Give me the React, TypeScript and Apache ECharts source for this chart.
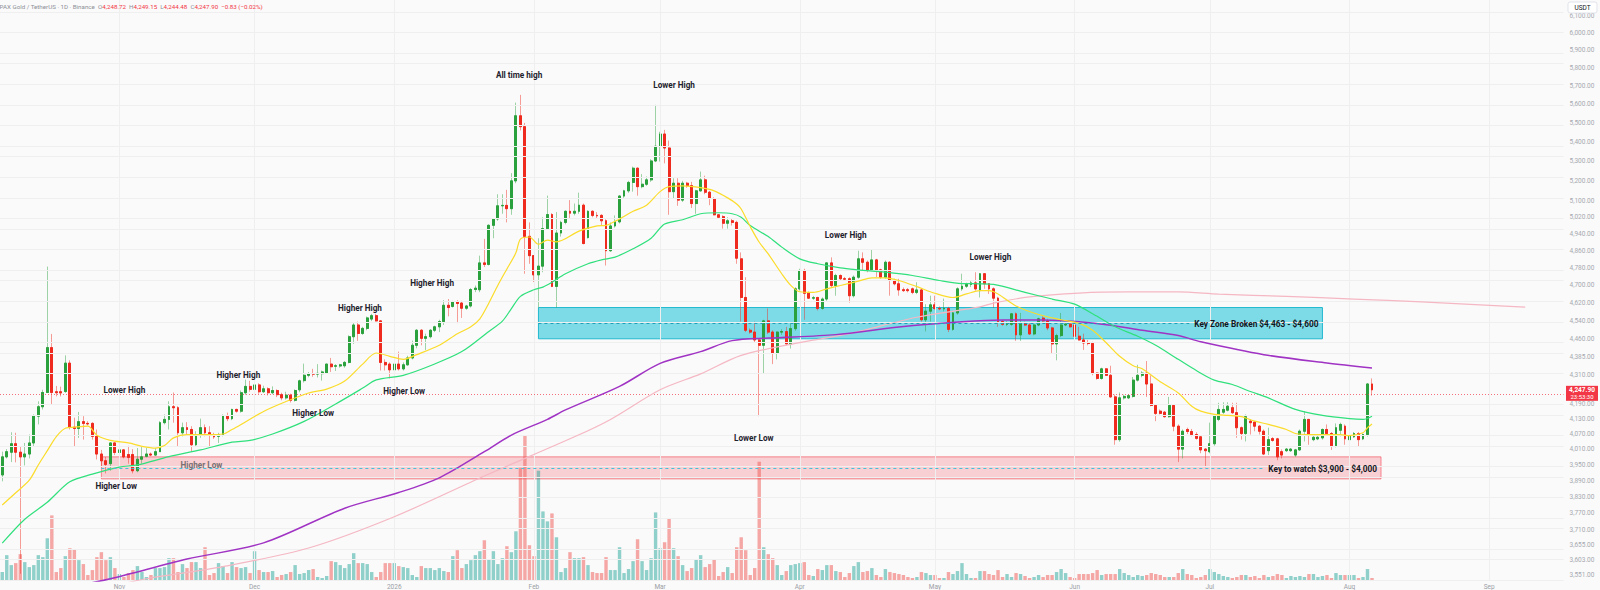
import React, { useEffect, useRef } from "react";
import * as echarts from "echarts";

// ---------------- categories (daily, crypto market trades every day) ----------------
const START_DATE = "2025-10-06";
const DAY_COUNT = 347; // the axis runs on past the last candle, into mid-September 2026

const monthMarks: [string, string][] = [
  ["2025-11-01", "Nov"], ["2025-12-01", "Dec"], ["2026-01-01", "2026"], ["2026-02-01", "Feb"],
  ["2026-03-01", "Mar"], ["2026-04-01", "Apr"], ["2026-05-01", "May"], ["2026-06-01", "Jun"],
  ["2026-07-01", "Jul"], ["2026-08-01", "Aug"], ["2026-09-01", "Sep"],
];

// right price scale tick labels
const priceTicks = [
  6100, 6000, 5900, 5800, 5700, 5600, 5500, 5400, 5300, 5200, 5100, 5020, 4940, 4860, 4780, 4700,
  4620, 4540, 4460, 4385, 4310, 4190, 4130, 4070, 4010, 3950, 3890, 3830, 3770, 3710, 3655, 3603, 3551,
];

// ---------------- daily candles [open, high, low, close] ----------------
const ohlcOct = [
  [3912, 4001, 3888, 3981], [3981, 4011, 3975, 4001], [3999, 4077, 3961, 4032], [4032, 4075, 3960, 3999],
  [3999, 4022, 3555, 3981], [3981, 4035, 3948, 3992], [3992, 4068, 3975, 4035], [4035, 4148, 4022, 4141],
  [4141, 4201, 4108, 4179], [4179, 4248, 4168, 4237], [4237, 4786, 4235, 4425], [4425, 4484, 4188, 4237],
  [4240, 4264, 4221, 4236], [4240, 4261, 4221, 4235], [4241, 4392, 4235, 4359], [4359, 4371, 4088, 4097],
  [4097, 4135, 4022, 4092], [4092, 4158, 4055, 4119], [4119, 4141, 4048, 4112], [4112, 4121, 4104, 4110],
  [4112, 4117, 4048, 4061], [4061, 4088, 3971, 3992], [3992, 4008, 3941, 3966], [3966, 3981, 3918, 3952],
  [3955, 4037, 3928, 4035], [4035, 4037, 3988, 3998],
];
const ohlcNov = [
  [3998, 4011, 3995, 4008], [4008, 4011, 3975, 3981], [3990, 4024, 3955, 3979], [3990, 4011, 3918, 3928],
  [3928, 4015, 3922, 3972], [3972, 4019, 3955, 3981], [3983, 4015, 3979, 3992], [3992, 3998, 3984, 3988],
  [3988, 4015, 3984, 4001], [4001, 4121, 4001, 4115], [4115, 4148, 4108, 4128], [4128, 4201, 4088, 4179],
  [4179, 4237, 4115, 4175], [4175, 4181, 4022, 4075], [4075, 4115, 4061, 4095], [4095, 4117, 4068, 4088],
  [4088, 4101, 4001, 4028], [4028, 4081, 4022, 4068], [4068, 4131, 4055, 4095], [4095, 4108, 4061, 4075],
  [4075, 4101, 4022, 4066], [4066, 4075, 4051, 4059], [4061, 4075, 4035, 4068], [4068, 4148, 4061, 4141],
  [4141, 4155, 4121, 4131], [4131, 4171, 4125, 4168], [4168, 4171, 4155, 4161], [4161, 4245, 4155, 4236],
  [4236, 4290, 4228, 4262], [4262, 4285, 4240, 4250],
];
const ohlcDec = [
  [4250, 4282, 4245, 4268], [4268, 4275, 4232, 4240], [4240, 4265, 4235, 4252], [4252, 4258, 4225, 4236],
  [4236, 4262, 4230, 4245], [4245, 4250, 4218, 4228], [4228, 4236, 4205, 4215], [4215, 4240, 4208, 4226],
  [4226, 4232, 4196, 4205], [4205, 4250, 4200, 4245], [4248, 4290, 4238, 4285], [4286, 4357, 4278, 4308],
  [4308, 4322, 4300, 4315], [4315, 4335, 4302, 4313], [4313, 4355, 4299, 4316], [4315, 4328, 4286, 4322],
  [4318, 4357, 4315, 4355], [4355, 4381, 4322, 4344], [4346, 4355, 4326, 4348], [4347, 4356, 4340, 4352],
  [4348, 4368, 4340, 4362], [4362, 4478, 4358, 4472], [4472, 4531, 4441, 4523], [4523, 4538, 4454, 4486],
  [4486, 4515, 4480, 4508], [4508, 4560, 4500, 4554], [4549, 4572, 4540, 4564], [4564, 4572, 4538, 4541],
  [4541, 4544, 4328, 4362], [4362, 4375, 4328, 4352], [4355, 4362, 4295, 4331],
];
const ohlcJan = [
  [4331, 4362, 4325, 4355], [4355, 4408, 4328, 4335], [4335, 4362, 4328, 4352], [4352, 4390, 4348, 4381],
  [4381, 4455, 4375, 4435], [4435, 4505, 4422, 4500], [4500, 4505, 4435, 4465], [4465, 4485, 4415, 4472],
  [4472, 4505, 4465, 4500], [4500, 4520, 4492, 4515], [4515, 4546, 4492, 4538], [4538, 4633, 4523, 4610],
  [4610, 4638, 4561, 4600], [4605, 4630, 4600, 4626], [4626, 4633, 4531, 4618], [4620, 4630, 4554, 4597],
  [4597, 4612, 4590, 4607], [4607, 4688, 4600, 4681], [4681, 4699, 4669, 4687], [4680, 4837, 4669, 4803],
  [4803, 4916, 4784, 4796], [4796, 4986, 4791, 4981], [4981, 5015, 4919, 5012], [5012, 5133, 5003, 5076],
  [5076, 5133, 5037, 5078], [5078, 5155, 4995, 5062], [5062, 5239, 5032, 5200], [5200, 5609, 5188, 5538],
  [5538, 5651, 5460, 5480], [5480, 5500, 4753, 4928], [4928, 4995, 4799, 4837],
];
const ohlcFeb = [
  [4837, 4840, 4715, 4748], [4748, 4919, 4600, 4788], [4788, 5020, 4760, 4965], [4965, 5126, 4962, 5033],
  [5033, 5040, 4692, 4695], [4695, 5045, 4600, 4944], [4944, 5003, 4927, 4995], [4995, 5053, 4986, 5049],
  [5049, 5104, 5012, 5040], [5040, 5087, 5029, 5049], [5049, 5141, 5037, 5079], [5079, 5087, 4890, 4894],
  [4922, 5054, 4918, 5049], [5049, 5054, 5020, 5029], [5029, 5045, 5012, 5027], [5029, 5035, 4978, 5003],
  [5003, 5010, 4791, 4860], [4860, 4995, 4855, 4978], [4978, 5029, 4970, 4998], [4998, 5129, 4990, 5124],
  [5124, 5155, 5115, 5150], [5150, 5200, 5140, 5192], [5192, 5272, 5146, 5264], [5264, 5268, 5126, 5171],
  [5171, 5234, 5163, 5183], [5183, 5222, 5175, 5205], [5205, 5310, 5195, 5301], [5301, 5597, 5295, 5377],
];
const ohlcMar = [
  [5377, 5453, 5298, 5441], [5441, 5463, 5289, 5368], [5368, 5407, 5032, 5146], [5146, 5213, 5112, 5188],
  [5188, 5213, 5076, 5104], [5104, 5200, 5095, 5188], [5188, 5195, 5165, 5176], [5176, 5195, 5065, 5087],
  [5087, 5155, 5037, 5150], [5150, 5247, 5146, 5205], [5205, 5226, 5133, 5143], [5143, 5150, 5079, 5112],
  [5112, 5118, 5029, 5032], [5032, 5036, 5012, 5020], [5023, 5030, 4965, 4991], [4991, 5020, 4965, 5003],
  [5003, 5012, 4980, 4995], [4995, 5003, 4799, 4825], [4822, 4852, 4538, 4645], [4645, 4737, 4492, 4500],
  [4500, 4508, 4485, 4492], [4492, 4538, 4446, 4458], [4458, 4462, 4141, 4435], [4435, 4546, 4315, 4541],
  [4541, 4596, 4484, 4492], [4492, 4500, 4355, 4401], [4401, 4495, 4375, 4492], [4492, 4505, 4480, 4494],
  [4494, 4515, 4435, 4441], [4441, 4530, 4421, 4507], [4507, 4691, 4498, 4684],
];
const ohlcApr = [
  [4684, 4776, 4676, 4768], [4768, 4776, 4546, 4664], [4664, 4672, 4638, 4642], [4642, 4652, 4634, 4644],
  [4645, 4648, 4587, 4596], [4596, 4645, 4590, 4638], [4638, 4806, 4630, 4803], [4803, 4829, 4692, 4699],
  [4699, 4753, 4653, 4745], [4745, 4750, 4722, 4730], [4730, 4738, 4720, 4728], [4730, 4737, 4622, 4653],
  [4653, 4745, 4645, 4737], [4737, 4860, 4730, 4822], [4822, 4852, 4768, 4806], [4806, 4814, 4760, 4771],
  [4771, 4868, 4765, 4817], [4817, 4822, 4737, 4771], [4771, 4776, 4730, 4737], [4737, 4814, 4730, 4806],
  [4806, 4811, 4653, 4722], [4722, 4730, 4700, 4707], [4707, 4730, 4653, 4679], [4680, 4690, 4670, 4676],
  [4680, 4688, 4668, 4676], [4684, 4690, 4660, 4668], [4668, 4714, 4660, 4679], [4679, 4684, 4538, 4546],
  [4546, 4615, 4495, 4584], [4584, 4653, 4538, 4612],
];
const ohlcMay = [
  [4612, 4653, 4590, 4596], [4596, 4605, 4588, 4594], [4594, 4640, 4583, 4596], [4596, 4603, 4492, 4504],
  [4504, 4585, 4498, 4576], [4576, 4691, 4568, 4684], [4684, 4753, 4675, 4696], [4696, 4712, 4688, 4704],
  [4704, 4720, 4692, 4711], [4711, 4760, 4676, 4684], [4676, 4756, 4645, 4753], [4753, 4756, 4684, 4707],
  [4707, 4710, 4661, 4684], [4684, 4691, 4599, 4642], [4642, 4648, 4515, 4538], [4538, 4545, 4520, 4526],
  [4526, 4540, 4518, 4528], [4526, 4576, 4520, 4572], [4572, 4578, 4454, 4480], [4480, 4576, 4454, 4530],
  [4530, 4538, 4518, 4523], [4523, 4530, 4480, 4484], [4484, 4528, 4478, 4523], [4523, 4555, 4518, 4550],
  [4553, 4561, 4530, 4541], [4541, 4550, 4500, 4510], [4510, 4515, 4401, 4441], [4441, 4485, 4371, 4477],
  [4477, 4576, 4470, 4523], [4523, 4530, 4518, 4527], [4527, 4530, 4512, 4515],
];
const ohlcJun = [
  [4523, 4527, 4441, 4474], [4474, 4515, 4455, 4458], [4458, 4485, 4415, 4445], [4445, 4458, 4435, 4443],
  [4443, 4450, 4308, 4317], [4317, 4321, 4290, 4295], [4295, 4340, 4290, 4335], [4335, 4338, 4305, 4308],
  [4308, 4348, 4215, 4219], [4219, 4228, 4028, 4048], [4048, 4237, 4040, 4215], [4215, 4228, 4208, 4221],
  [4215, 4230, 4210, 4224], [4221, 4301, 4216, 4288], [4288, 4352, 4282, 4308], [4308, 4325, 4300, 4317],
  [4317, 4368, 4219, 4272], [4272, 4308, 4181, 4184], [4184, 4188, 4121, 4152], [4161, 4168, 4148, 4152],
  [4157, 4162, 4135, 4139], [4139, 4219, 4135, 4184], [4184, 4188, 4081, 4101], [4101, 4108, 3961, 4011],
  [4011, 4088, 3975, 4081], [4088, 4095, 4070, 4080], [4080, 4090, 4061, 4068], [4068, 4077, 4048, 4053],
  [4059, 4061, 3995, 4008], [4011, 4015, 3941, 4005],
];
const ohlcJul = [
  [4001, 4115, 3995, 4032], [4032, 4144, 4024, 4141], [4128, 4195, 4121, 4168], [4157, 4197, 4150, 4168],
  [4165, 4197, 4160, 4181], [4175, 4195, 4150, 4155], [4155, 4195, 4055, 4095], [4095, 4100, 4048, 4072],
  [4072, 4148, 4041, 4139], [4121, 4128, 4068, 4115], [4117, 4121, 4081, 4101], [4101, 4105, 4068, 4081],
  [4081, 4088, 3988, 3992], [4005, 4095, 3988, 4048], [4052, 4058, 4040, 4045], [4051, 4055, 3968, 3981],
  [4001, 4010, 3975, 3988], [4005, 4015, 4000, 4011], [4005, 4015, 4000, 4011], [3988, 4012, 3981, 4008],
  [4008, 4088, 4004, 4081], [4081, 4161, 4041, 4128], [4128, 4130, 4028, 4068], [4048, 4064, 4042, 4057],
  [4051, 4062, 4046, 4057], [4055, 4092, 4048, 4088], [4088, 4108, 4068, 4072], [4072, 4078, 4008, 4024],
  [4024, 4112, 4018, 4095], [4085, 4115, 4061, 4108], [4101, 4108, 4028, 4051],
];
const ohlcAug = [
  [4048, 4070, 4042, 4064], [4059, 4078, 4055, 4072], [4072, 4078, 4021, 4048], [4051, 4072, 4046, 4068],
  [4068, 4275, 4060, 4272], [4272, 4295, 4224, 4247.9],
];

// ---------------- daily volume (relative units) ----------------
const volOct = [8, 25, 15, 17, 26, 18, 13, 15, 25, 23, 42, 65, 8, 12, 24, 32, 31, 20, 16, 5, 10, 23, 28, 20, 23, 12];
const volNov = [6, 3, 7, 10, 14, 8, 3, 5, 12, 12, 13, 22, 22, 8, 16, 12, 18, 18, 12, 33, 5, 7, 17, 14, 7, 18, 13, 12, 13, 7];
const volDec = [29, 10, 8, 8, 9, 3, 5, 6, 8, 15, 6, 7, 10, 11, 3, 2, 4, 19, 18, 15, 12, 16, 27, 17, 17, 16, 8, 3, 8, 17, 17];
const volJan = [17, 14, 13, 12, 5, 3, 14, 12, 12, 10, 12, 9, 8, 24, 30, 12, 16, 20, 25, 29, 40, 21, 29, 16, 22, 34, 28, 49, 113, 145, 35];
const volFeb = [24, 110, 69, 59, 67, 43, 8, 12, 28, 22, 22, 23, 15, 8, 7, 7, 23, 10, 10, 33, 7, 11, 19, 41, 19, 10, 22, 68];
const volMar = [32, 38, 62, 32, 24, 15, 9, 12, 21, 25, 13, 16, 21, 4, 8, 13, 7, 33, 43, 30, 5, 12, 119, 33, 26, 22, 15, 5, 9, 15, 16];
const volApr = [17, 18, 5, 4, 11, 10, 15, 15, 9, 8, 3, 7, 14, 18, 8, 9, 12, 5, 3, 11, 8, 7, 6, 5, 3, 2, 3, 8, 7, 5];
const volMay = [5, 2, 2, 8, 6, 9, 17, 6, 2, 2, 9, 9, 6, 5, 10, 3, 6, 3, 7, 6, 4, 2, 3, 5, 3, 5, 5, 8, 11, 7, 3];
const volJun = [2, 6, 6, 6, 7, 10, 5, 6, 6, 6, 11, 7, 5, 3, 5, 4, 5, 7, 6, 5, 3, 3, 3, 7, 11, 6, 5, 2, 3, 5];
const volJul = [11, 8, 6, 4, 3, 2, 3, 5, 5, 3, 4, 2, 5, 3, 4, 6, 5, 2, 4, 3, 4, 3, 6, 6, 3, 4, 5, 2, 7, 5, 5];
const volAug = [5, 5, 2, 3, 11, 2];

// ---------------- moving averages, read at [day index, price] ----------------
const maFast = [
  [0, 3800], [3, 3845], [6, 3892], [8, 3950], [10, 4005], [12, 4060], [14, 4093], [16, 4097], [19, 4101],
  [21, 4065], [24, 4045], [28, 4035], [31, 4022], [34, 4015], [36, 4025], [38, 4055], [41, 4068], [46, 4068],
  [49, 4070], [51, 4088], [53, 4108], [58, 4160], [63, 4200], [68, 4235], [72, 4251], [76, 4284], [80, 4355],
  [83, 4402], [86, 4388], [89, 4375], [92, 4395], [97, 4435], [101, 4485], [104, 4515], [106, 4550],
  [108, 4620], [110, 4700], [112, 4775], [114, 4850], [115, 4915], [117, 4925], [119, 4890], [121, 4910],
  [123, 4902], [128, 4953], [132, 4978], [134, 4981], [137, 5012], [140, 5049], [143, 5079], [146, 5146],
  [148, 5171], [151, 5175], [155, 5166], [158, 5150], [161, 5115], [163, 5085], [164, 5060], [166, 4975],
  [168, 4900], [170, 4845], [173, 4753], [175, 4700], [177, 4671], [180, 4668], [183, 4684], [186, 4699],
  [190, 4719], [193, 4734], [196, 4734], [199, 4722], [203, 4694], [207, 4664], [211, 4645], [214, 4661],
  [217, 4676], [219, 4676], [221, 4661], [225, 4607], [230, 4569], [235, 4546], [239, 4530], [242, 4500],
  [245, 4446], [248, 4388], [251, 4348], [253, 4335], [257, 4281], [261, 4235], [264, 4181], [266, 4161],
  [269, 4148], [272, 4144], [275, 4139], [278, 4121], [281, 4108], [285, 4088], [287, 4072], [290, 4068],
  [293, 4068], [297, 4068], [299, 4064], [302, 4075], [303, 4095], [304, 4110],
];
const maMid = [
  [0, 3662], [5, 3748], [10, 3810], [15, 3886], [20, 3915], [26, 3942], [30, 3950], [37, 3982], [44, 4008],
  [51, 4038], [55, 4045], [60, 4070], [67, 4120], [74, 4190], [80, 4255], [83, 4289], [89, 4308], [95, 4348],
  [102, 4408], [108, 4495], [111, 4540], [113, 4595], [115, 4650], [118, 4680], [120, 4692], [122, 4714],
  [125, 4753], [130, 4799], [133, 4817], [136, 4830], [140, 4869], [144, 4919], [147, 4987], [151, 5008],
  [155, 5037], [159, 5042], [162, 5037], [164, 5020], [166, 4980], [170, 4927], [173, 4877], [177, 4822],
  [181, 4799], [186, 4780], [190, 4771], [196, 4760], [202, 4745], [208, 4722], [213, 4708], [217, 4707],
  [220, 4704], [227, 4668], [233, 4638], [238, 4615], [243, 4561], [247, 4515], [252, 4474], [256, 4435],
  [261, 4375], [265, 4328], [269, 4288], [273, 4270], [277, 4241], [281, 4215], [287, 4168], [293, 4144],
  [299, 4131], [302, 4128], [304, 4141],
];
const maSlow = [
  [15, 3510], [24, 3538], [41, 3606], [58, 3663], [76, 3788], [88, 3846], [97, 3901], [107, 4001],
  [113, 4066], [121, 4128], [125, 4166], [137, 4262], [146, 4358], [155, 4408], [162, 4455], [170, 4466],
  [185, 4481], [199, 4514], [213, 4537], [222, 4545], [231, 4545], [239, 4537], [246, 4522], [253, 4500],
  [261, 4477], [266, 4450], [280, 4395], [294, 4360], [304, 4339],
];
const maLong = [
  [25, 3515], [32, 3538], [49, 3580], [68, 3645], [87, 3757], [107, 3908], [127, 4059], [135, 4128],
  [146, 4248], [155, 4314], [164, 4392], [176, 4443], [188, 4485], [203, 4557], [217, 4603], [220, 4620],
  [228, 4648], [239, 4665], [250, 4670], [261, 4670], [270, 4660], [285, 4650], [300, 4638], [315, 4625],
  [328, 4612], [338, 4602],
];

// ---------------- zones, notes, header ----------------
const zones = [
  { from: "2026-02-02", to: "2026-07-26", low: 4463, high: 4600, label: "Key Zone Broken $4,463 - $4,600", kind: "blue" },
  { from: "2025-10-28", to: "2026-08-08", low: 3897, high: 3981, label: "Key to watch $3,900 - $4,000", kind: "red" },
];
const notes = [
  { text: "Lower High", day: 27.1, price: 4248 },
  { text: "Higher Low", day: 25.3, price: 3870 },
  { text: "Higher Low", day: 44.2, price: 3951, muted: true },
  { text: "Higher High", day: 52.4, price: 4310 },
  { text: "Higher Low", day: 69.0, price: 4152 },
  { text: "Higher High", day: 79.4, price: 4600 },
  { text: "Higher Low", day: 89.2, price: 4244 },
  { text: "Higher High", day: 95.4, price: 4710 },
  { text: "All time high", day: 114.7, price: 5762 },
  { text: "Lower High", day: 149.1, price: 5704 },
  { text: "Lower Low", day: 166.8, price: 4053 },
  { text: "Lower High", day: 187.2, price: 4935 },
  { text: "Lower High", day: 219.3, price: 4831 },
];
const header = {
  pair: "PAX Gold / TetherUS · 1D · Binance",
  open: "4,248.72", high: "4,249.15", low: "4,244.48", close: "4,247.90", change: "−0.83 (−0.02%)",
};
const lastPrice = 4247.9;
const countdown = "23:53:30";
const quote = "USDT";

// ---------------- styling ----------------
const BG = "#fafafa";
const FONT = "Roboto, 'Noto Sans', sans-serif";
const UP = "#2ba13d";
const DOWN = "#ef2a1e";
const UP_WICK = "rgba(43,161,61,0.45)";
const DOWN_WICK = "rgba(239,42,30,0.45)";
const VOL_UP = "rgba(38,166,154,0.5)";
const VOL_DOWN = "rgba(239,83,80,0.5)";
const GRID_LINE = "#efefef";
const LN_MAX = 8.73145;
const LN_MIN = 8.16916;
const NOTE_SIZE = 8.2;
const ZONE_SIZE = 8.3;

function fmt(v: number) {
  return v.toLocaleString("en-US", { minimumFractionDigits: 2, maximumFractionDigits: 2 });
}

function measure(text: string, font: string) {
  const ctx = document.createElement("canvas").getContext("2d");
  if (!ctx) return text.length * 5;
  ctx.font = font;
  return ctx.measureText(text).width;
}

export default function App() {
  const ref = useRef<HTMLDivElement>(null);

  useEffect(() => {
    const el = ref.current as HTMLDivElement;
    const chart = echarts.init(el, undefined, { renderer: "svg" });

    const start = Date.parse(START_DATE + "T00:00:00Z");
    const categories: string[] = [];
    for (let k = 0; k < DAY_COUNT; k++) {
      categories.push(new Date(start + k * 86400000).toISOString().slice(0, 10));
    }
    const monthLabelOf: Record<string, string> = {};
    monthMarks.forEach(([d, l]) => (monthLabelOf[d] = l));
    const monthIdx = new Set(monthMarks.map(([d]) => categories.indexOf(d)));

    const ohlc = [
      ...ohlcOct, ...ohlcNov, ...ohlcDec, ...ohlcJan, ...ohlcFeb, ...ohlcMar,
      ...ohlcApr, ...ohlcMay, ...ohlcJun, ...ohlcJul, ...ohlcAug,
    ];
    const volume = [
      ...volOct, ...volNov, ...volDec, ...volJan, ...volFeb, ...volMar,
      ...volApr, ...volMay, ...volJun, ...volJul, ...volAug,
    ];
    const L = Math.log;
    const wickData = ohlc.map(([o, h, l, c]) => [L(o), L(c), L(l), L(h)]);
    const bodyData = ohlc.map(([o, , , c]) => [L(o), L(c), L(Math.min(o, c)), L(Math.max(o, c))]);
    const volData = volume.map((v, k) => ({
      value: v,
      itemStyle: { color: ohlc[k][3] >= ohlc[k][0] ? VOL_UP : VOL_DOWN },
    }));
    const toLn = (arr: number[][]) => arr.map(([d, p]) => [d, L(p)]);
    const tickLn = priceTicks.map((t) => L(t));

    const line = (data: number[][], color: string, width: number) => ({
      type: "line",
      xAxisIndex: 0,
      yAxisIndex: 0,
      data: toLn(data),
      showSymbol: false,
      smooth: 0.3,
      clip: true,
      silent: true,
      z: 5,
      lineStyle: { color, width },
    });

    const option: any = {
      animation: false,
      backgroundColor: BG,
      textStyle: { fontFamily: FONT },
      grid: [
        { left: -1.5, top: 0, width: 1565, height: 581 },
        { left: -1.5, top: 420, width: 1565, height: 161 },
      ],
      xAxis: [
        {
          type: "category", gridIndex: 0, data: categories, boundaryGap: true,
          axisLine: { show: false }, axisTick: { show: false }, axisLabel: { show: false }, splitLine: { show: false },
        },
        {
          type: "category", gridIndex: 1, data: categories, boundaryGap: true,
          axisLine: { show: false }, axisTick: { show: false }, splitLine: { show: false },
          axisLabel: {
            interval: (idx: number) => monthIdx.has(idx),
            formatter: (v: string) => monthLabelOf[v] || "",
            color: "#9b9ea6", fontSize: 6.5, margin: 3, fontFamily: FONT,
          },
        },
      ],
      yAxis: [
        {
          type: "value", gridIndex: 0, position: "right", min: LN_MIN, max: LN_MAX,
          axisLine: { show: false }, axisTick: { show: false }, splitLine: { show: false },
          axisLabel: {
            customValues: tickLn,
            formatter: (v: number) => {
              const t = priceTicks.find((p) => Math.abs(L(p) - v) < 1e-6);
              return t === undefined ? "" : fmt(t);
            },
            color: "#a6a9b0", fontSize: 6.5, margin: 6, align: "left", fontFamily: FONT,
          },
        },
        { type: "value", gridIndex: 1, min: 0, max: 161, show: false },
      ],
      series: [
        {
          name: "grid", type: "line", xAxisIndex: 0, yAxisIndex: 0, data: [], silent: true, z: 0,
          markLine: {
            silent: true, symbol: ["none", "none"], label: { show: false }, animation: false,
            lineStyle: { color: GRID_LINE, width: 1, type: "solid" },
            data: [
              ...tickLn.map((v) => ({ yAxis: v })),
              ...monthMarks.map(([d]) => ({ xAxis: d })),
            ],
          },
        },
        {
          name: "Volume", type: "bar", xAxisIndex: 1, yAxisIndex: 1, data: volData,
          barWidth: 3.4, silent: true, z: 1,
        },
        {
          name: "wick", type: "candlestick", xAxisIndex: 0, yAxisIndex: 0, data: wickData,
          barWidth: 2.4, silent: true, z: 3,
          itemStyle: { color: UP_WICK, color0: DOWN_WICK, borderColor: UP_WICK, borderColor0: DOWN_WICK, borderWidth: 1 },
        },
        {
          name: "PAXGUSDT", type: "candlestick", xAxisIndex: 0, yAxisIndex: 0, data: bodyData,
          barWidth: 2.4, silent: true, z: 4,
          itemStyle: { color: UP, color0: DOWN, borderColor: UP, borderColor0: DOWN, borderWidth: 1 },
        },
        line(maLong, "#f5b7c3", 1.2),
        line(maSlow, "#a033c4", 1.5),
        line(maMid, "#2fe07c", 1.2),
        line(maFast, "#fbdc2a", 1.2),
        {
          name: "zones", type: "line", xAxisIndex: 0, yAxisIndex: 0, data: [], silent: true, z: 8,
          markArea: {
            silent: true, animation: false, label: { show: false },
            data: zones.map((zn) => [
              {
                xAxis: zn.from, yAxis: L(zn.high),
                itemStyle: zn.kind === "blue"
                  ? { color: "rgba(0,188,212,0.5)", borderColor: "#22b8cf", borderWidth: 1 }
                  : { color: "rgba(242,54,69,0.22)", borderColor: "rgba(242,54,69,0.55)", borderWidth: 1 },
              },
              { xAxis: zn.to, yAxis: L(zn.low) },
            ]),
          },
        },
        {
          name: "last", type: "line", xAxisIndex: 0, yAxisIndex: 0, data: [], silent: true, z: 9,
          markLine: {
            silent: true, symbol: ["none", "none"], label: { show: false }, animation: false,
            lineStyle: { color: "rgba(242,54,69,0.7)", width: 1, type: [1, 2] },
            data: [{ yAxis: L(lastPrice) }],
          },
        },
      ],
    };

    chart.setOption(option);

    const xa = chart.convertToPixel({ xAxisIndex: 0 }, 0) as number;
    const xb = chart.convertToPixel({ xAxisIndex: 0 }, 1) as number;
    const py = (p: number) => chart.convertToPixel({ yAxisIndex: 0 }, L(p)) as number;
    const pxDate = (d: string) => chart.convertToPixel({ xAxisIndex: 0 }, categories.indexOf(d)) as number;
    const band = xb - xa;

    const graphics: any[] = [];

    // zone captions and dashed mid lines (line stops before the caption)
    zones.forEach((zn) => {
      const xl = pxDate(zn.from);
      const xr = pxDate(zn.to);
      const ym = Math.round(py(Math.sqrt(zn.low * zn.high))) + 0.5;
      const tw = measure(zn.label, `bold ${ZONE_SIZE}px Roboto`);
      const textRight = xr - 4;
      graphics.push({
        type: "line", z: 60, silent: true,
        shape: { x1: xl, y1: ym, x2: textRight - tw - 5, y2: ym },
        style: { stroke: zn.kind === "blue" ? "#1f9fb8" : "#45c2da", lineWidth: 1, lineDash: [3, 3] },
      });
      graphics.push({
        type: "text", x: textRight, y: ym, z: 100, silent: true,
        style: {
          text: zn.label, align: "right", verticalAlign: "middle",
          fill: "#131722", fontSize: ZONE_SIZE, fontWeight: "bold", fontFamily: FONT,
        },
      });
    });

    notes.forEach((n) => {
      graphics.push({
        type: "text", x: xa + band * n.day, y: py(n.price), z: 100, silent: true,
        style: {
          text: n.text, align: "center", verticalAlign: "middle",
          fill: n.muted ? "#7a6f71" : "#1e222d",
          fontSize: NOTE_SIZE, fontWeight: "bold", fontFamily: FONT,
        },
      });
    });

    // header
    graphics.push({
      type: "text", x: -0.5, y: 7, z: 100, silent: true,
      style: {
        text:
          `{t|${header.pair}}  {k|O}{v|${header.open}}  {k|H}{v|${header.high}}  ` +
          `{k|L}{v|${header.low}}  {k|C}{v|${header.close}}  {v|${header.change}}`,
        verticalAlign: "middle", fontSize: 6.2, fontFamily: FONT,
        rich: {
          t: { fill: "#8d9098", fontSize: 6.2, fontFamily: FONT },
          k: { fill: "#8d9098", fontSize: 6.2, fontFamily: FONT },
          v: { fill: "#f23645", fontSize: 6.2, fontFamily: FONT },
        },
      },
    });

    // quote currency box
    graphics.push({
      type: "rect", z: 100, silent: true,
      shape: { x: 1568, y: 2, width: 29, height: 11, r: 2 },
      style: { fill: "#ffffff", stroke: "#e0e3eb", lineWidth: 1 },
    });
    graphics.push({
      type: "text", x: 1582.5, y: 7.5, z: 101, silent: true,
      style: { text: quote, align: "center", verticalAlign: "middle", fill: "#131722", fontSize: 6.5, fontFamily: FONT },
    });

    // last price tag
    const yl = py(lastPrice);
    graphics.push({
      type: "rect", z: 100, silent: true,
      shape: { x: 1566, y: yl - 4, width: 32, height: 15 },
      style: { fill: "#f23645" },
    });
    graphics.push({
      type: "text", x: 1582, y: yl + 0.5, z: 101, silent: true,
      style: { text: fmt(lastPrice), align: "center", verticalAlign: "middle", fill: "#ffffff", fontSize: 6.5, fontWeight: "bold", fontFamily: FONT },
    });
    graphics.push({
      type: "text", x: 1582, y: yl + 7, z: 101, silent: true,
      style: { text: countdown, align: "center", verticalAlign: "middle", fill: "#ffffff", fontSize: 6, fontFamily: FONT },
    });

    chart.setOption({ graphic: graphics });

    return () => chart.dispose();
  }, []);

  return (
    <div
      ref={ref}
      style={{ position: "fixed", left: 0, top: 0, width: 1600, height: 590, background: BG }}
    />
  );
}
